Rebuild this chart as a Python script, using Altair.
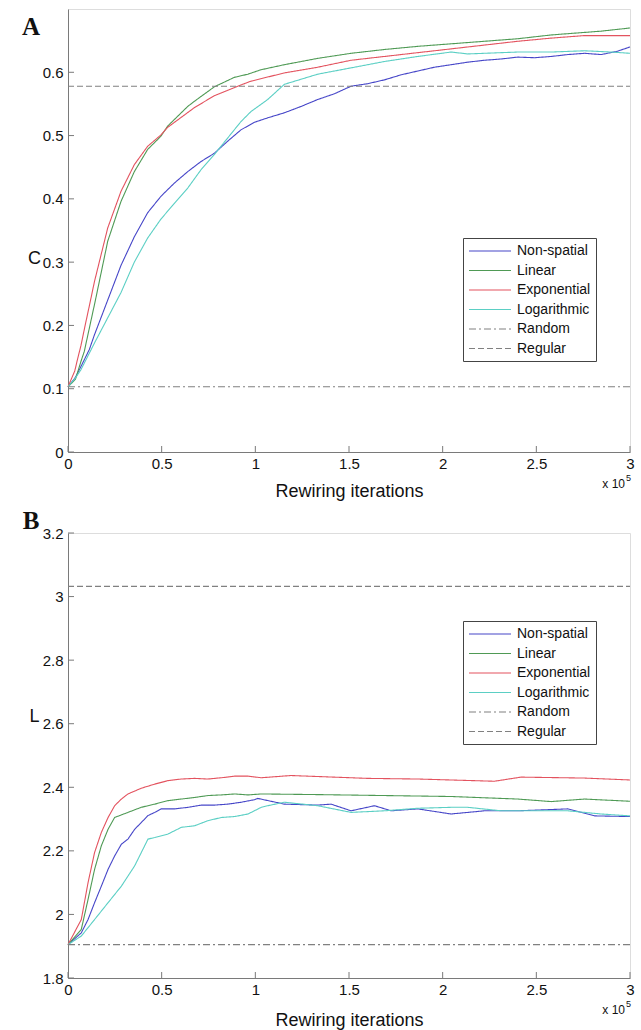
import altair as alt
import pandas as pd

SERIES = ["Non-spatial", "Linear", "Exponential", "Logarithmic", "Random", "Regular"]
COLORS = ["#4646c8", "#4f9a55", "#e3535f", "#5bcfc4", "#808080", "#808080"]
DASHES = [[1, 0], [1, 0], [1, 0], [1, 0], [7, 3, 2, 3], [6, 3]]
X_TICKS = [0, 0.5, 1, 1.5, 2, 2.5, 3]
X_DOMAIN = [0, 3]

# ---------------- Panel A (clustering coefficient C) ----------------
A_Y_TICKS = [0, 0.1, 0.2, 0.3, 0.4, 0.5, 0.6]
A_Y_DOMAIN = [0, 0.7]
a_random = 0.103
a_regular = 0.578

a_non_x = [0, 0.04, 0.069, 0.114, 0.141, 0.212, 0.283, 0.354, 0.425, 0.496, 0.568, 0.639, 0.71, 0.781, 0.852,
           0.923, 0.995, 1.066, 1.155, 1.244, 1.333, 1.422, 1.511, 1.6, 1.689, 1.778, 1.867, 1.956, 2.045, 2.134,
           2.223, 2.312, 2.401, 2.49, 2.579, 2.668, 2.757, 2.846, 2.93, 3.0]
a_non_y = [0.103, 0.118, 0.135, 0.162, 0.185, 0.240, 0.295, 0.340, 0.378, 0.404, 0.425, 0.443, 0.459, 0.472, 0.491,
           0.509, 0.521, 0.528, 0.536, 0.546, 0.557, 0.566, 0.578, 0.582, 0.588, 0.596, 0.602, 0.608, 0.612, 0.616,
           0.619, 0.621, 0.624, 0.623, 0.625, 0.628, 0.630, 0.628, 0.633, 0.640]

a_lin_x = [0, 0.04, 0.069, 0.087, 0.145, 0.212, 0.283, 0.354, 0.425, 0.496, 0.532, 0.639, 0.674, 0.781, 0.888,
           0.96, 1.03, 1.155, 1.333, 1.511, 1.689, 1.867, 2.045, 2.223, 2.401, 2.579, 2.757, 2.846, 3.0]
a_lin_y = [0.103, 0.115, 0.143, 0.159, 0.238, 0.333, 0.396, 0.443, 0.478, 0.499, 0.515, 0.546, 0.554, 0.577, 0.592,
           0.597, 0.604, 0.612, 0.622, 0.630, 0.636, 0.641, 0.645, 0.649, 0.653, 0.659, 0.663, 0.665, 0.670]

a_exp_x = [0, 0.036, 0.052, 0.069, 0.09, 0.119, 0.141, 0.212, 0.283, 0.354, 0.425, 0.496, 0.532, 0.674, 0.781, 0.923,
           0.977, 1.155, 1.333, 1.511, 1.689, 1.867, 2.045, 2.223, 2.401, 2.579, 2.757, 3.0]
a_exp_y = [0.103, 0.128, 0.148, 0.168, 0.198, 0.238, 0.269, 0.354, 0.412, 0.454, 0.483, 0.501, 0.513, 0.544, 0.563,
           0.580, 0.586, 0.599, 0.608, 0.619, 0.625, 0.631, 0.637, 0.643, 0.649, 0.654, 0.658, 0.658]

a_log_x = [0, 0.04, 0.069, 0.141, 0.212, 0.283, 0.354, 0.425, 0.496, 0.568, 0.639, 0.71, 0.781, 0.852, 0.923,
           0.977, 1.066, 1.155, 1.244, 1.333, 1.511, 1.689, 1.867, 2.045, 2.134, 2.223, 2.401, 2.579, 2.757, 2.9, 3.0]
a_log_y = [0.103, 0.117, 0.130, 0.172, 0.212, 0.252, 0.300, 0.338, 0.368, 0.393, 0.417, 0.446, 0.470, 0.496, 0.522,
           0.538, 0.557, 0.581, 0.589, 0.597, 0.607, 0.617, 0.625, 0.632, 0.629, 0.630, 0.632, 0.632, 0.634, 0.632, 0.630]

# ---------------- Panel B (path length L) ----------------
B_Y_TICKS = [1.8, 2.0, 2.2, 2.4, 2.6, 2.8, 3.0, 3.2]
B_Y_DOMAIN = [1.8, 3.2]
b_random = 1.905
b_regular = 3.032

b_non_x = [0, 0.071, 0.107, 0.142, 0.178, 0.214, 0.249, 0.285, 0.32, 0.356, 0.391, 0.427, 0.463, 0.498, 0.569,
           0.641, 0.712, 0.783, 0.854, 0.925, 0.996, 1.013, 1.155, 1.333, 1.404, 1.511, 1.636, 1.725, 1.867, 2.045,
           2.223, 2.401, 2.668, 2.811, 3.0]
b_non_y = [1.905, 1.942, 1.984, 2.037, 2.089, 2.142, 2.184, 2.221, 2.237, 2.268, 2.289, 2.311, 2.321, 2.332, 2.332,
           2.337, 2.344, 2.344, 2.347, 2.353, 2.361, 2.365, 2.347, 2.344, 2.347, 2.326, 2.342, 2.326, 2.332, 2.316,
           2.326, 2.326, 2.332, 2.310, 2.308]

b_lin_x = [0, 0.071, 0.107, 0.142, 0.178, 0.214, 0.249, 0.32, 0.391, 0.463, 0.534, 0.605, 0.676, 0.747, 0.819,
           0.89, 0.961, 1.032, 1.333, 1.689, 2.045, 2.401, 2.579, 2.757, 3.0]
b_lin_y = [1.905, 1.953, 2.047, 2.142, 2.216, 2.268, 2.305, 2.321, 2.337, 2.347, 2.358, 2.363, 2.368, 2.374, 2.376,
           2.379, 2.376, 2.379, 2.377, 2.374, 2.371, 2.363, 2.355, 2.363, 2.356]

b_exp_x = [0, 0.071, 0.107, 0.142, 0.178, 0.214, 0.249, 0.285, 0.32, 0.391, 0.463, 0.534, 0.605, 0.676, 0.747,
           0.819, 0.89, 0.961, 1.032, 1.19, 1.6, 1.867, 2.276, 2.418, 2.757, 3.0]
b_exp_y = [1.905, 1.984, 2.100, 2.195, 2.258, 2.305, 2.342, 2.363, 2.379, 2.397, 2.410, 2.421, 2.426, 2.428, 2.426,
           2.430, 2.435, 2.435, 2.430, 2.437, 2.428, 2.426, 2.419, 2.432, 2.429, 2.423]

b_log_x = [0, 0.071, 0.142, 0.214, 0.285, 0.356, 0.427, 0.463, 0.534, 0.605, 0.676, 0.747, 0.819, 0.89, 0.961,
           1.032, 1.066, 1.155, 1.333, 1.511, 1.689, 1.867, 2.045, 2.134, 2.312, 2.49, 2.668, 2.846, 3.0]
b_log_y = [1.905, 1.932, 1.984, 2.037, 2.089, 2.153, 2.237, 2.242, 2.253, 2.274, 2.279, 2.295, 2.305, 2.308, 2.316,
           2.337, 2.342, 2.353, 2.342, 2.321, 2.326, 2.334, 2.337, 2.337, 2.326, 2.326, 2.326, 2.316, 2.310]

AXIS_COLOR = "#7a7a7a"
FONT = "Liberation Sans"
PLOT_W = 562


def make_df(non, lin, exp, log, rnd, reg):
    parts = []
    for name, (xs, ys) in zip(SERIES[:4], [non, lin, exp, log]):
        parts.append(pd.DataFrame({"x": xs, "y": ys, "series": name}))
    parts.append(pd.DataFrame({"x": X_DOMAIN, "y": [rnd, rnd], "series": "Random"}))
    parts.append(pd.DataFrame({"x": X_DOMAIN, "y": [reg, reg], "series": "Regular"}))
    return pd.concat(parts, ignore_index=True)


def panel(df, y_domain, y_ticks, y_title, letter, height, legend_y, x_title_y, y_title_y, letter_y):
    legend = alt.Legend(
        title=None, orient="none", legendX=395, legendY=legend_y,
        symbolType="M-1,0L5,0", symbolSize=196, symbolStrokeWidth=1.2,
        labelFont=FONT, labelFontSize=14, labelColor="#111", labelOffset=33,
        rowPadding=4.5, padding=5, strokeColor="#444", fillColor="white",
    )
    lines = alt.Chart(df).mark_line(strokeWidth=1.1).encode(
        x=alt.X("x:Q", scale=alt.Scale(domain=X_DOMAIN, nice=False),
                axis=alt.Axis(values=X_TICKS, format="~g", title="Rewiring iterations", ticks=False,
                              labelFlush=False, labelOverlap=False, labelPadding=4, labelFontSize=15,
                              labelFont=FONT, labelColor="#111", domainColor=AXIS_COLOR, grid=False,
                              titleFont=FONT, titleFontSize=18, titleFontWeight="normal", titleColor="#111",
                              titleY=x_title_y, titleBaseline="middle")),
        y=alt.Y("y:Q", scale=alt.Scale(domain=y_domain, nice=False, zero=False),
                axis=alt.Axis(values=y_ticks, format="~g", title=y_title, ticks=False, labelFlush=False,
                              labelOverlap=False, labelPadding=5, labelFontSize=15, labelFont=FONT,
                              labelColor="#111", domainColor=AXIS_COLOR, grid=False, titleAngle=0,
                              titleFont=FONT, titleFontSize=18, titleFontWeight="normal", titleColor="#111",
                              titleX=-34, titleY=y_title_y, titleAlign="center", titleBaseline="middle")),
        color=alt.Color("series:N", scale=alt.Scale(domain=SERIES, range=COLORS), legend=legend),
        strokeDash=alt.StrokeDash("series:N", scale=alt.Scale(domain=SERIES, range=DASHES), legend=legend),
    )
    xt = alt.Chart(pd.DataFrame({"x": X_TICKS})).mark_rule(color=AXIS_COLOR, strokeWidth=1).encode(
        x="x:Q", y=alt.value(height), y2=alt.value(height - 6))
    yt = alt.Chart(pd.DataFrame({"y": y_ticks})).mark_rule(color=AXIS_COLOR, strokeWidth=1).encode(
        y="y:Q", x=alt.value(0), x2=alt.value(6))
    lab = alt.Chart(pd.DataFrame({"t": [letter]})).mark_text(
        font="Liberation Serif", fontWeight="bold", fontSize=25, align="center", baseline="middle",
        color="#111").encode(text="t:N", x=alt.value(-37), y=alt.value(letter_y))
    sup = alt.Chart(pd.DataFrame({"t": ["x 10"]})).mark_text(
        font=FONT, fontSize=12, align="right", baseline="middle", color="#111").encode(
        text="t:N", x=alt.value(PLOT_W - 5), y=alt.value(height + 32))
    sup5 = alt.Chart(pd.DataFrame({"t": ["5"]})).mark_text(
        font=FONT, fontSize=9, align="left", baseline="middle", color="#111").encode(
        text="t:N", x=alt.value(PLOT_W - 4), y=alt.value(height + 26))
    return alt.layer(lines, xt, yt, lab, sup, sup5).properties(width=PLOT_W, height=height)


df_a = make_df((a_non_x, a_non_y), (a_lin_x, a_lin_y), (a_exp_x, a_exp_y), (a_log_x, a_log_y), a_random, a_regular)
df_b = make_df((b_non_x, b_non_y), (b_lin_x, b_lin_y), (b_exp_x, b_exp_y), (b_log_x, b_log_y), b_random, b_regular)

pa = panel(df_a, A_Y_DOMAIN, A_Y_TICKS, "C", "A", 443, 229, 39, 249, 17.5)
pb = panel(df_b, B_Y_DOMAIN, B_Y_TICKS, "L", "B", 445, 88, 42, 183, -12)

chart = alt.vconcat(pa, pb, spacing=7).resolve_scale(color="independent", strokeDash="independent", x="independent", y="independent").properties(
    padding={"left": 21, "top": 8, "right": 5, "bottom": 0}
).configure_view(stroke=None).configure(background="white")

chart.save("out.html", embed_options={"renderer": "svg", "actions": False})
